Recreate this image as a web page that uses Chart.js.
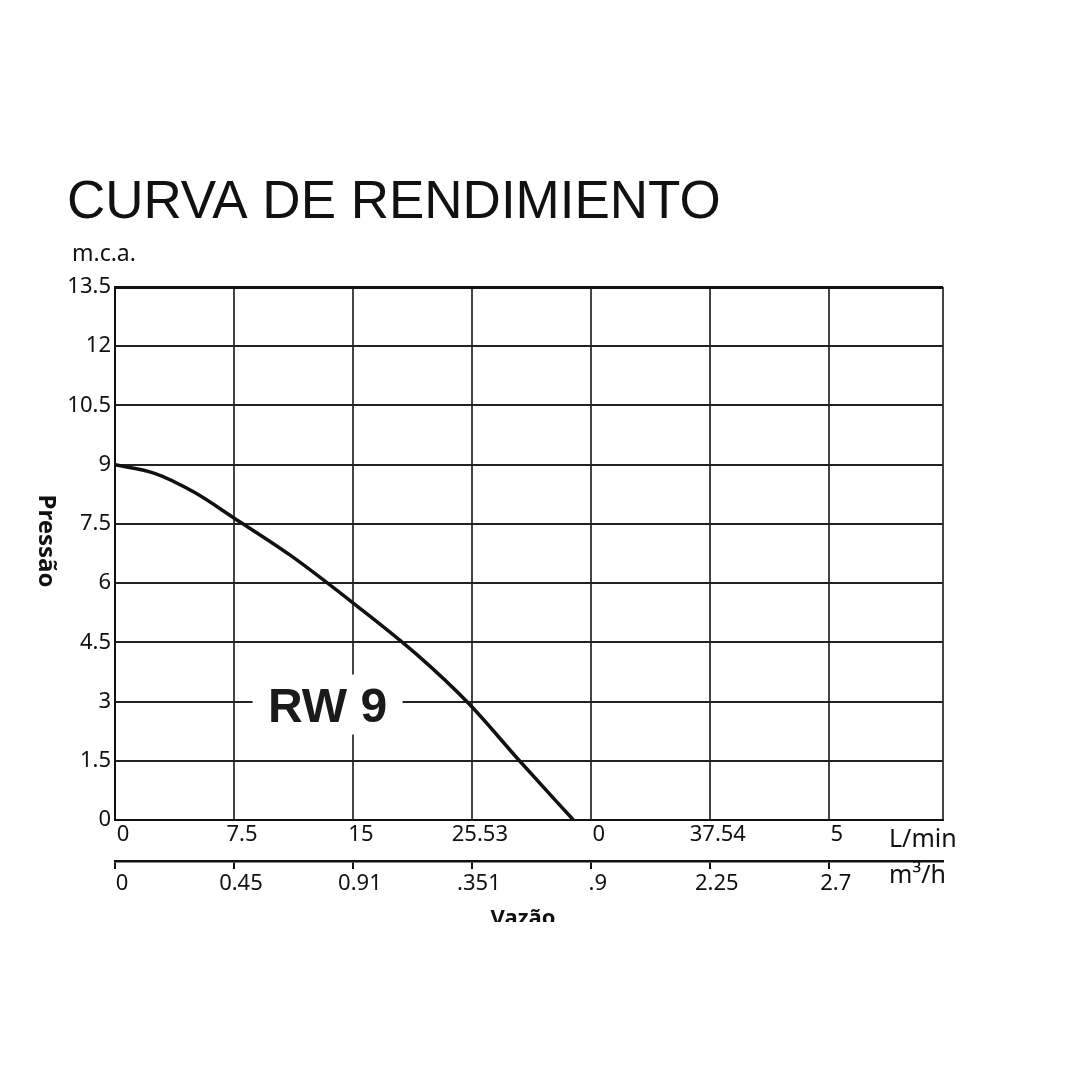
<!DOCTYPE html>
<html>
<head>
<meta charset="utf-8">
<script src="https://cdn.jsdelivr.net/npm/chart.js@4"></script>
<style>
  html, body { margin: 0; padding: 0; background: #fff; }
  #wrap { width: 1080px; height: 922px; position: relative; }
</style>
</head>
<body>
<div id="wrap"><canvas id="curve"></canvas></div>
<script>
// pump curve RW 9
const flowLpm  = [0, 2.5, 5, 7.5, 11, 15, 19, 22.3, 25.5, 28.9];
const pressure = [9, 8.78, 8.3, 7.65, 6.72, 5.5, 4.2, 2.95, 1.5, 0];

const xTickValues = [0, 7.5, 15, 22.5, 30, 37.5, 45];
const lpmLabels   = ['0', '7.5', '15', '25.53', '0', '37.54', '5'];
const m3hLabels   = ['0', '0.45', '0.91', '.351', '.9', '2.25', '2.7'];

const X_MAX = 52.2;
const TICK_FONT = { family: 'Noto Sans', size: 22 };

const extraText = {
  id: 'extraText',
  beforeDatasetsDraw(chart) {
    const { ctx, scales } = chart;
    // model label with white patch over the grid
    const cx = scales.x.getPixelForValue(13.4);
    const cy = scales.y.getPixelForValue(3) + 7;
    ctx.save();
    ctx.fillStyle = '#fff';
    ctx.fillRect(cx - 75, cy - 34, 150, 60);
    ctx.fillStyle = '#1a1a1a';
    ctx.font = 'bold 48px "Liberation Sans", Arial, sans-serif';
    ctx.textAlign = 'center';
    ctx.textBaseline = 'middle';
    ctx.fillText('RW 9', cx, cy);
    ctx.restore();
  },
  afterDraw(chart) {
    const { ctx } = chart;
    ctx.save();
    ctx.fillStyle = '#111';
    ctx.textBaseline = 'alphabetic';
    ctx.font = '53px "Liberation Sans", Arial, sans-serif';
    ctx.fillText('CURVA DE RENDIMIENTO', 67, 218);
    ctx.font = '23px "Noto Sans", sans-serif';
    ctx.fillText('m.c.a.', 72, 261);
    ctx.font = '25px "Noto Sans", sans-serif';
    ctx.fillText('L/min', 889, 847);
    ctx.fillText('m\u00B3/h', 889, 883);
    ctx.textAlign = 'center';
    ctx.font = 'bold 22px "Noto Sans", sans-serif';
    ctx.textBaseline = 'middle';
    ctx.fillText('Vaz\u00E3o', 523, 919);
    // y title, turned clockwise
    ctx.translate(46, 541);
    ctx.rotate(Math.PI / 2);
    ctx.font = 'bold 24px "Noto Sans", sans-serif';
    ctx.fillText('Press\u00E3o', 0, 0);
    ctx.restore();
  }
};

new Chart(document.getElementById('curve'), {
  type: 'line',
  data: {
    datasets: [{
      data: flowLpm.map((x, i) => ({ x, y: pressure[i] })),
      borderColor: '#111',
      borderWidth: 3.5,
      pointRadius: 0,
      fill: false,
      cubicInterpolationMode: 'monotone'
    }]
  },
  options: {
    responsive: true,
    maintainAspectRatio: false,
    animation: false,
    layout: { padding: { top: 287, right: 137, left: 0, bottom: 0 } },
    plugins: { legend: { display: false }, tooltip: { enabled: false } },
    scales: {
      x: {
        type: 'linear',
        position: 'bottom',
        weight: 0,
        min: 0,
        max: X_MAX,
        afterBuildTicks: scale => {
          scale.ticks = xTickValues.concat([X_MAX]).map(v => ({ value: v }));
        },
        afterFit: scale => { scale.height = 41; },
        ticks: {
          font: TICK_FONT,
          color: '#111',
          padding: 2,
          labelOffset: 8,
          maxRotation: 0,
          autoSkip: false,
          callback: (v, i) => lpmLabels[i] ?? ''
        },
        grid: { color: '#444', lineWidth: 2, drawTicks: false },
        border: { color: '#111', width: 2 }
      },
      x2: {
        type: 'linear',
        position: 'bottom',
        weight: 1,
        min: 0,
        max: X_MAX,
        afterBuildTicks: scale => {
          scale.ticks = xTickValues.map(v => ({ value: v }));
        },
        afterFit: scale => { scale.height = 61; },
        ticks: {
          font: TICK_FONT,
          color: '#111',
          padding: 2,
          labelOffset: 7,
          maxRotation: 0,
          autoSkip: false,
          callback: (v, i) => m3hLabels[i] ?? ''
        },
        grid: { drawOnChartArea: false, color: '#111', lineWidth: 2, tickLength: 8 },
        border: { color: '#111', width: 2.5 }
      },
      y: {
        min: 0,
        max: 13.5,
        afterFit: scale => { scale.width = 115; },
        ticks: {
          stepSize: 1.5,
          font: TICK_FONT,
          color: '#111',
          padding: 4,
          callback: v => String(+v.toFixed(1))
        },
        grid: {
          color: ctx => ctx.tick && ctx.tick.value === 13.5 ? '#111' : '#222',
          lineWidth: ctx => ctx.tick && ctx.tick.value === 13.5 ? 3 : 2,
          drawTicks: false
        },
        border: { color: '#111', width: 2 }
      }
    }
  },
  plugins: [extraText]
});
</script>
</body>
</html>
